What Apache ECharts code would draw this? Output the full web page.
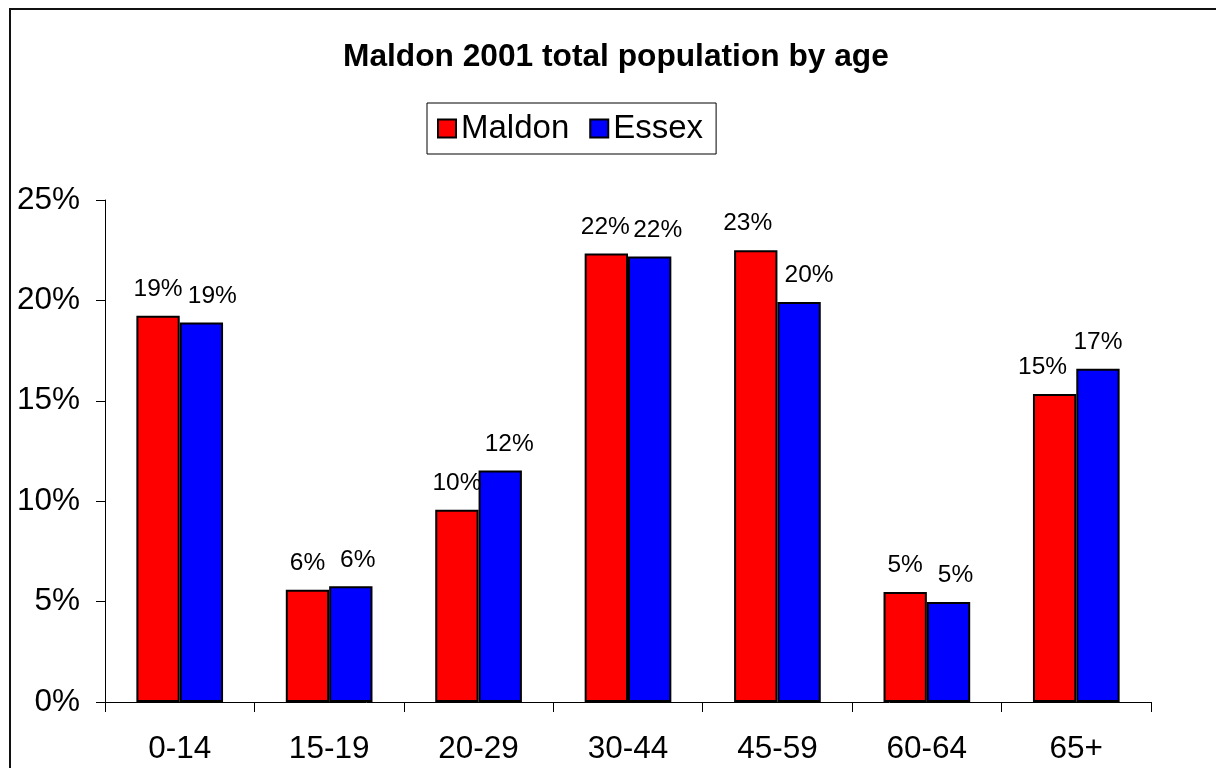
<!DOCTYPE html>
<html>
<head>
<meta charset="utf-8">
<script src="https://cdn.jsdelivr.net/npm/echarts@6/dist/echarts.min.js"></script>
<style>
  html, body { margin: 0; padding: 0; background: #fff; }
  #chart { width: 1216px; height: 768px; }
</style>
</head>
<body>
<div id="chart"></div>
<script>
// Age bands and share of total population (%) in 2001
const ageBands = ['0-14', '15-19', '20-29', '30-44', '45-59', '60-64', '65+'];
const maldon = [19.24, 5.59, 9.58, 22.33, 22.5, 5.48, 15.34];
const essex  = [18.9, 5.76, 11.53, 22.19, 19.92, 4.98, 16.6];
const seriesNames = ['Maldon', 'Essex'];
const titleText = 'Maldon 2001 total population by age';

const FONT = 'Arial, "Liberation Sans", sans-serif';

// small sideways nudges that keep neighbouring value labels apart
const maldonLabelShift = [0, 0, 0, -1, -8, 0, -12];
const essexLabelShift  = [11, 7, 9, 8, 10, 7, 0];

function barSeries(name, values, color, shifts) {
  return {
    name: name,
    type: 'bar',
    barGap: '0%',
    barCategoryGap: '42%',
    itemStyle: { color: color, borderColor: '#000', borderWidth: 2 },
    label: {
      show: true,
      position: 'top',
      distance: 14,
      color: '#000',
      fontFamily: FONT,
      fontSize: 24.5,
      formatter: p => Math.round(p.value) + '%'
    },
    data: values.map((v, i) => ({ value: v, label: { offset: [shifts[i], 0] } }))
  };
}

const chart = echarts.init(document.getElementById('chart'), null, { renderer: 'canvas' });
chart.setOption({
  backgroundColor: '#fff',
  animation: false,
  title: {
    text: titleText,
    left: 343,
    top: 41,
    padding: 0,
    textStyle: { fontFamily: FONT, fontSize: 31.7, fontWeight: 'bold', color: '#000' }
  },
  legend: {
    data: seriesNames,
    left: 427,
    top: 103,
    orient: 'horizontal',
    icon: 'rect',
    itemWidth: 18,
    itemHeight: 18,
    itemGap: 20,
    padding: [9, 13, 9, 10],
    borderColor: '#000',
    borderWidth: 1,
    textStyle: { fontFamily: FONT, fontSize: 33, color: '#000' }
  },
  grid: { left: 105, right: 65, top: 200, bottom: 66, containLabel: false },
  xAxis: {
    type: 'category',
    data: ageBands,
    axisLine: { show: true, lineStyle: { color: '#000', width: 1 } },
    axisTick: { show: true, length: 10, lineStyle: { color: '#000' } },
    axisLabel: { fontFamily: FONT, fontSize: 31.5, color: '#000', margin: 31 },
    splitLine: { show: false }
  },
  yAxis: {
    type: 'value',
    min: 0,
    max: 25,
    interval: 5,
    axisLine: { show: true, lineStyle: { color: '#000', width: 1 } },
    axisTick: { show: true, length: 9, lineStyle: { color: '#000' } },
    axisLabel: { fontFamily: FONT, fontSize: 31.5, color: '#000', margin: 25, formatter: '{value}%' },
    splitLine: { show: false }
  },
  graphic: [{
    type: 'rect',
    silent: true,
    shape: { x: 10, y: 9, width: 1400, height: 1000 },
    style: { fill: 'none', stroke: '#111', lineWidth: 2 }
  }],
  series: [
    barSeries(seriesNames[0], maldon, '#ff0000', maldonLabelShift),
    barSeries(seriesNames[1], essex, '#0000ff', essexLabelShift)
  ]
});
</script>
</body>
</html>
